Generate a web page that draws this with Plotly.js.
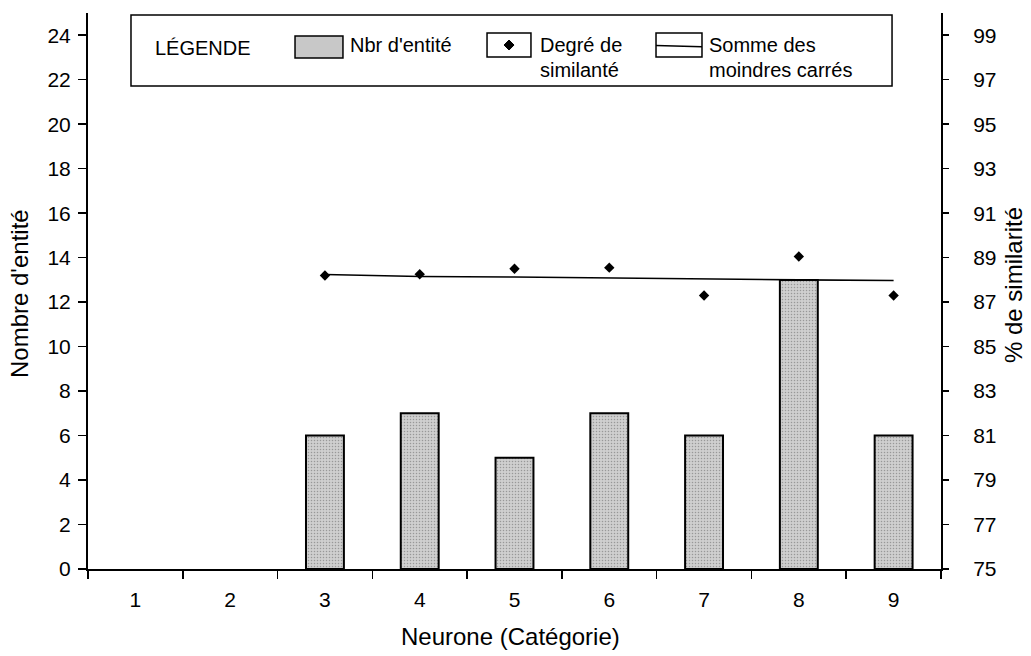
<!DOCTYPE html>
<html>
<head>
<meta charset="utf-8">
<script src="https://cdn.plot.ly/plotly-3.0.1.min.js"></script>
<style>
  html, body { margin: 0; padding: 0; background: #ffffff; }
  #chart { width: 1031px; height: 656px; }
</style>
</head>
<body>
<div id="chart"></div>
<script>
// Neurone categories on the x axis
const categories = ['1', '2', '3', '4', '5', '6', '7', '8', '9'];

// Number of entities per neurone (left axis)
const nbrEntite = [0, 0, 6, 7, 5, 7, 6, 13, 6];

// Degree of similarity, in % (right axis)
const degreSimilarite = [null, null, 88.2, 88.25, 88.5, 88.55, 87.3, 89.05, 87.3];

// Sum of least squares (right axis)
const sommeMoindresCarres = [null, null, 88.24, 88.15, 88.13, 88.08, 88.03, 88.0, 87.97];

// Tick values for both vertical axes
const leftTicks = [0, 2, 4, 6, 8, 10, 12, 14, 16, 18, 20, 22, 24];
const rightTicks = [75, 77, 79, 81, 83, 85, 87, 89, 91, 93, 95, 97, 99];

const FONT = 'Liberation Sans, Arial, sans-serif';
const BAR_BG = '#cfcfcf';
const BAR_FG = '#989898';

// empty neurones get no outline
const barOutline = nbrEntite.map(v => (v > 0 ? 2 : 0));

const traces = [
  {
    type: 'bar',
    x: categories,
    y: nbrEntite,
    yaxis: 'y',
    width: 0.4,
    marker: {
      color: BAR_BG,
      line: { color: '#000000', width: barOutline },
      pattern: { shape: '.', fillmode: 'replace', bgcolor: BAR_BG, fgcolor: BAR_FG, size: 3, solidity: 0.2 }
    },
    name: "Nbr d'entité",
    showlegend: false
  },
  {
    type: 'scatter',
    mode: 'lines',
    x: categories,
    y: sommeMoindresCarres,
    yaxis: 'y2',
    line: { color: '#000000', width: 1.6 },
    name: 'Somme des moindres carrés',
    showlegend: false
  },
  {
    type: 'scatter',
    mode: 'markers',
    x: categories,
    y: degreSimilarite,
    yaxis: 'y2',
    marker: { symbol: 'diamond', size: 8, color: '#000000' },
    name: 'Degré de similarité',
    showlegend: false
  }
];

// Legend drawn as a framed panel across the top of the plot
const shapes = [
  { type: 'rect', xref: 'paper', yref: 'paper', x0: 0.0504, x1: 0.9426, y0: 0.8687, y1: 0.9964,
    line: { color: '#000000', width: 1.5 }, fillcolor: '#ffffff', layer: 'above' },
  { type: 'rect', xref: 'paper', yref: 'paper', x0: 0.2427, x1: 0.2989, y0: 0.9191, y1: 0.9586,
    line: { color: '#000000', width: 1.5 }, fillcolor: '#c8c8c8', layer: 'above' },
  { type: 'rect', xref: 'paper', yref: 'paper', x0: 0.4678, x1: 0.5193, y0: 0.9209, y1: 0.9640,
    line: { color: '#000000', width: 1.5 }, fillcolor: '#ffffff', layer: 'above' },
  { type: 'path', xref: 'paper', yref: 'paper', xsizemode: 'pixel', ysizemode: 'pixel',
    xanchor: 0.4936, yanchor: 0.9424, path: 'M0,5 L5,0 L0,-5 L-5,0 Z',
    line: { color: '#000000', width: 1 }, fillcolor: '#000000', layer: 'above' },
  { type: 'rect', xref: 'paper', yref: 'paper', x0: 0.6659, x1: 0.7198, y0: 0.9209, y1: 0.9640,
    line: { color: '#000000', width: 1.5 }, fillcolor: '#ffffff', layer: 'above' },
  { type: 'line', xref: 'paper', yref: 'paper', x0: 0.6659, x1: 0.7198, y0: 0.9415, y1: 0.9395,
    line: { color: '#000000', width: 1.5 }, layer: 'above' }
];

const txt = (text, x, y, extra) => Object.assign({
  text: text, xref: 'paper', yref: 'paper', x: x, y: y,
  xanchor: 'left', yanchor: 'middle', showarrow: false,
  font: { family: FONT, size: 20, color: '#000000' }
}, extra || {});

const TITLE_FONT = { family: FONT, size: 24, color: '#000000' };

const annotations = [
  txt('LÉGENDE', 0.0762, 0.937),
  txt("Nbr d'entité", 0.3048, 0.9424),
  txt('Degré de', 0.5275, 0.9424),
  txt('similanté', 0.5275, 0.8975),
  txt('Somme des', 0.7257, 0.9424),
  txt('moindres carrés', 0.7257, 0.8975),
  // axis titles
  txt("Nombre d'entité", 0, 0.5, { xanchor: 'center', xshift: -69, yshift: -3, textangle: -90, font: TITLE_FONT }),
  txt('% de similarité', 1, 0.5, { xanchor: 'center', xshift: 72, yshift: 6, textangle: -90, font: TITLE_FONT }),
  txt('Neurone (Catégorie)', 0.5, 0, { xanchor: 'center', yshift: -67, xshift: -4, font: TITLE_FONT })
];

const layout = {
  width: 1031,
  height: 656,
  margin: { l: 88, r: 90, t: 13, b: 87, pad: 0 },
  paper_bgcolor: '#ffffff',
  plot_bgcolor: '#ffffff',
  font: { family: FONT, size: 20, color: '#000000' },
  showlegend: false,
  xaxis: {
    type: 'category',
    range: [-0.5, 8.5],
    tickson: 'boundaries',
    ticks: 'outside', ticklen: 8, tickwidth: 1.5, tickcolor: '#000000',
    showline: true, linecolor: '#000000', linewidth: 2,
    showgrid: false, zeroline: false,
    ticklabelstandoff: 11,
    tickfont: { family: FONT, size: 21, color: '#000000' }
  },
  yaxis: {
    range: [0, 25],
    tickmode: 'array', tickvals: leftTicks,
    ticks: 'outside', ticklen: 8, tickwidth: 1.5, tickcolor: '#000000',
    showline: true, linecolor: '#000000', linewidth: 2,
    showgrid: false, zeroline: false,
    ticklabelstandoff: 3,
    tickfont: { family: FONT, size: 21, color: '#000000' }
  },
  yaxis2: {
    overlaying: 'y',
    side: 'right',
    range: [75, 100],
    tickmode: 'array', tickvals: rightTicks,
    ticks: 'outside', ticklen: 6, tickwidth: 1.5, tickcolor: '#000000',
    showline: true, linecolor: '#000000', linewidth: 2,
    showgrid: false, zeroline: false,
    ticklabelstandoff: 20,
    tickfont: { family: FONT, size: 21, color: '#000000' }
  },
  shapes: shapes,
  annotations: annotations
};

Plotly.newPlot('chart', traces, layout, { staticPlot: true, displayModeBar: false });
</script>
</body>
</html>
